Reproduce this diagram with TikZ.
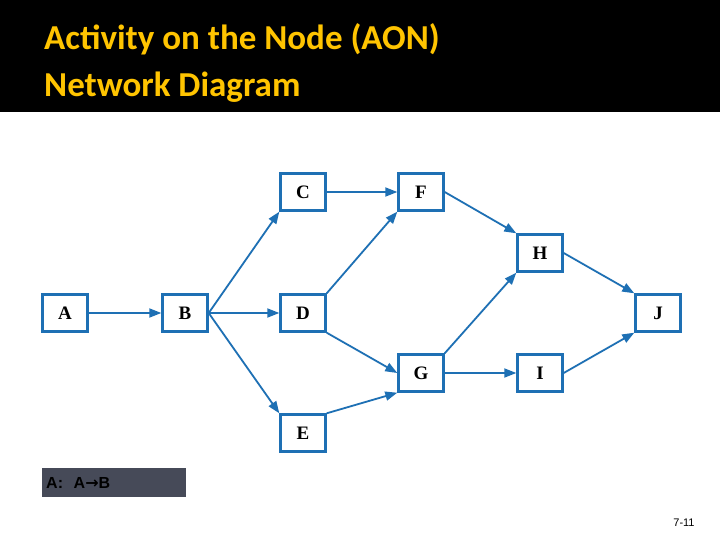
\documentclass[tikz,border=0pt]{standalone}
\usepackage{fontspec}
\setmainfont{Liberation Serif}
\newfontfamily\titlefont{Carlito}
\newfontfamily\legendfont{Liberation Sans}
\newfontfamily\arrowfont{DejaVu Sans}
\usetikzlibrary{positioning}
\usetikzlibrary{arrows.meta}
\definecolor{netblue}{RGB}{30,112,180}
\definecolor{titlegold}{RGB}{255,196,0}
\definecolor{legendgray}{RGB}{70,74,88}

\begin{document}
\begin{tikzpicture}[x=1pt, y=-1pt,
  act/.style = {rectangle, draw=netblue, line width=2.4pt, fill=white,
    minimum width=45pt, minimum height=37pt, inner sep=0pt,
    font=\bfseries\fontsize{19}{19}\selectfont},
  link/.style = {-{Triangle[length=12pt,width=9pt]}, draw=netblue, line width=1.8pt}]
  \useasboundingbox (0,0) rectangle (720,540);
  \fill[white] (0,0) rectangle (720,540);
  \fill[black] (0,0) rectangle (720,112);
  \node (Title) [anchor=west, align=left, text=titlegold, inner sep=0pt,
    font=\titlefont\bfseries\fontsize{35}{47}\selectfont] at (44,63)
    {Activity on the Node (AON)\\Network Diagram};

  \node[act] (A) at (65,313)  {A};
  \node[act] (B) at (185,313) {B};
  \node[act] (C) at (303,192) {C};
  \node[act] (D) at (303,313) {D};
  \node[act] (E) at (303,433) {E};
  \node[act] (F) at (421,192) {F};
  \node[act] (G) at (421,373) {G};
  \node[act] (H) at (540,253) {H};
  \node[act] (I) at (540,373) {I};
  \node[act] (J) at (658,313) {J};

  \draw[link] (A) -- (B);
  \draw[link] (B.east) -- (C.south west);
  \draw[link] (B.east) -- (D.west);
  \draw[link] (B.east) -- (E.north west);
  \draw[link] (C) -- (F);
  \draw[link] (D.north east) -- (F.south west);
  \draw[link] (D.south east) -- (G.west);
  \draw[link] (E.north east) -- (G.south west);
  \draw[link] (F.east) -- (H.north west);
  \draw[link] (G.north east) -- (H.south west);
  \draw[link] (G) -- (I);
  \draw[link] (H.east) -- (J.north west);
  \draw[link] (I.east) -- (J.south west);

  \node (Legend) [rectangle, fill=legendgray, minimum width=144pt, minimum height=29pt,
    anchor=north west, text width=136pt, align=left,
    font=\legendfont\bfseries\fontsize{16}{16}\selectfont] at (42,468)
    {A:~ A{\arrowfont\bfseries →}B};
  \node (Page) [font=\legendfont\fontsize{11}{11}\selectfont] at (684,523) {7-11};
\end{tikzpicture}
\end{document}
